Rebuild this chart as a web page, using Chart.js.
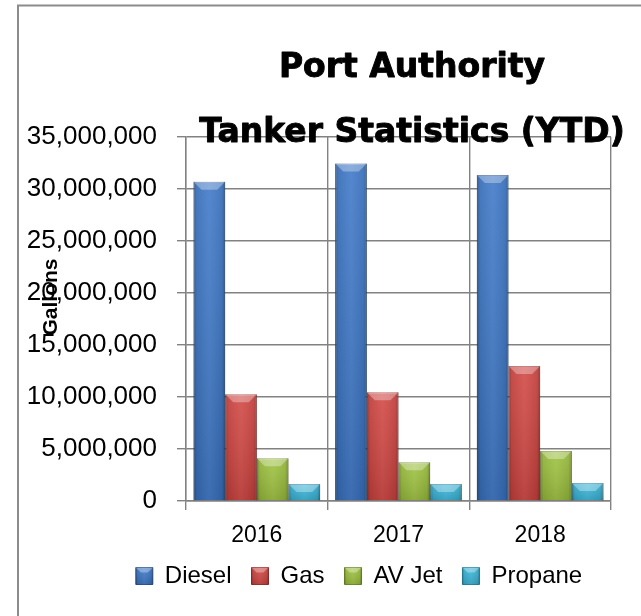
<!DOCTYPE html>
<html><head><meta charset="utf-8">
<script src="https://cdn.jsdelivr.net/npm/chart.js@4"></script>
<style>html,body{margin:0;padding:0;background:#fff;overflow:hidden}canvas{display:block}</style>
</head><body>
<canvas id="c" width="641" height="616"></canvas>
<script>
// ---- data ----
const categories = ['2016', '2017', '2018'];
const seriesNames = ['Diesel', 'Gas', 'AV Jet', 'Propane'];
const diesel  = [30700000, 32450000, 31350000];
const gas     = [10270000, 10460000, 12990000];
const avJet   = [4110000, 3720000, 4810000];
const propane = [1640000, 1640000, 1730000];
const yTickValues = [0, 5000000, 10000000, 15000000, 20000000, 25000000, 30000000, 35000000];
const titleLines = ['Port Authority', 'Tanker Statistics (YTD)'];
const yAxisTitle = 'Gallons';

// ---- styles ----
const fills   = ['#3a75c6', '#d0433f', '#9cc13c', '#38b5d9'];
const borders = ['#2a5694', '#9e302d', '#74912b', '#2888a6'];
const gridColor = '#828282';

function shadeBox(ctx, l, t, w, h, bev) {
  if (h <= 0 || w <= 0) return;
  let g = ctx.createLinearGradient(l, 0, l + w, 0);
  g.addColorStop(0, 'rgba(0,0,0,0.32)');
  g.addColorStop(0.1, 'rgba(0,0,0,0.07)');
  g.addColorStop(0.5, 'rgba(255,255,255,0.06)');
  g.addColorStop(0.9, 'rgba(0,0,0,0.07)');
  g.addColorStop(1, 'rgba(0,0,0,0.32)');
  ctx.fillStyle = g; ctx.fillRect(l, t, w, h);
  g = ctx.createLinearGradient(0, t, 0, t + h);
  g.addColorStop(0, 'rgba(255,255,255,0.08)');
  g.addColorStop(1, 'rgba(0,0,0,0.12)');
  ctx.fillStyle = g; ctx.fillRect(l, t, w, h);
  const b = Math.min(bev, h / 2, w / 3);
  ctx.beginPath();
  ctx.moveTo(l, t); ctx.lineTo(l + w, t); ctx.lineTo(l + w - b, t + b); ctx.lineTo(l + b, t + b);
  ctx.closePath();
  ctx.fillStyle = 'rgba(255,255,255,0.32)'; ctx.fill();
}

const decor = {
  id: 'decor',
  afterLayout(chart) {
    // centre the legend row under the plot like the reference
    const lg = chart.legend;
    if (lg) { lg.left = 107; lg.width = lg.right - lg.left; }
  },
  beforeDraw(chart) {
    const ctx = chart.ctx;
    ctx.save();
    ctx.strokeStyle = '#8c8c8c'; ctx.lineWidth = 2;
    ctx.beginPath(); ctx.moveTo(18, chart.height); ctx.lineTo(18, 5.5); ctx.lineTo(chart.width, 5.5); ctx.stroke();
    ctx.restore();
  },
  afterDatasetsDraw(chart) {
    const ctx = chart.ctx, a = chart.chartArea;
    ctx.save();
    ctx.beginPath(); ctx.rect(a.left, a.top, a.right - a.left, a.bottom - a.top); ctx.clip();
    chart.data.datasets.forEach((ds, di) => {
      const meta = chart.getDatasetMeta(di);
      if (meta.hidden) return;
      meta.data.forEach(el => {
        const p = el.getProps(['x', 'y', 'base', 'width'], true);
        shadeBox(ctx, p.x - p.width / 2, Math.min(p.y, p.base), p.width, Math.abs(p.base - p.y), 8);
      });
    });
    ctx.restore();
  },
  afterDraw(chart) {
    const ctx = chart.ctx;
    ctx.save();
    const lg = chart.legend;
    if (lg && lg.legendHitBoxes) {
      const fs = lg.options.labels.font.size, bh = lg.options.labels.boxHeight, bw = lg.options.labels.boxWidth;
      lg.legendHitBoxes.forEach(hb => shadeBox(ctx, hb.left, hb.top + Math.max((fs - bh) / 2, 0), bw, bh, 5));
    }
    ctx.fillStyle = '#000'; ctx.strokeStyle = '#000'; ctx.lineWidth = 0.9; ctx.lineJoin = 'round';
    ctx.textAlign = 'center'; ctx.textBaseline = 'alphabetic';
    ctx.font = 'bold 33px "DejaVu Sans"';
    ctx.fillText(titleLines[0], 412, 77);
    ctx.strokeText(titleLines[0], 412, 77);
    ctx.fillText(titleLines[1], 412, 142);
    ctx.strokeText(titleLines[1], 412, 142);
    ctx.font = 'bold 21px "Liberation Sans"';
    ctx.translate(57, 297); ctx.rotate(-Math.PI / 2);
    ctx.fillText(yAxisTitle, 0, 0);
    ctx.restore();
  }
};

const seriesData = [diesel, gas, avJet, propane];
new Chart(document.getElementById('c'), {
  type: 'bar',
  data: {
    labels: categories,
    datasets: seriesNames.map((n, i) => ({
      label: n, data: seriesData[i],
      backgroundColor: fills[i], borderColor: borders[i], borderWidth: 1,
      categoryPercentage: 0.894, barPercentage: 1
    }))
  },
  options: {
    responsive: false, animation: false,
    layout: { padding: { left: 24, right: 30, top: 137, bottom: 18 } },
    plugins: {
      title: { display: false },
      tooltip: { enabled: false },
      legend: {
        position: 'bottom',
        labels: { boxWidth: 17, boxHeight: 17, padding: 20, color: '#000',
          font: { family: 'Liberation Sans', size: 24 } }
      }
    },
    scales: {
      x: {
        ticks: { padding: 18, color: '#000', font: { family: 'Liberation Sans', size: 23, lineHeight: 16 / 23 } },
        grid: { offset: true, color: gridColor, lineWidth: 1.4, tickLength: 9 },
        border: { color: gridColor, width: 1.6 },
        afterFit: s => { s.height = 43; }
      },
      y: {
        min: 0, max: 35000000,
        afterBuildTicks: s => { s.ticks = yTickValues.map(v => ({ value: v })); },
        ticks: { padding: 20, color: '#000', font: { family: 'Liberation Sans', size: 26 },
          callback: v => Number(v).toLocaleString('en-US') },
        grid: { color: gridColor, lineWidth: 1.4, tickLength: 9 },
        border: { color: gridColor, width: 1.4 },
        afterFit: s => { s.width = 162; }
      }
    }
  },
  plugins: [decor]
});
</script>
</body></html>
